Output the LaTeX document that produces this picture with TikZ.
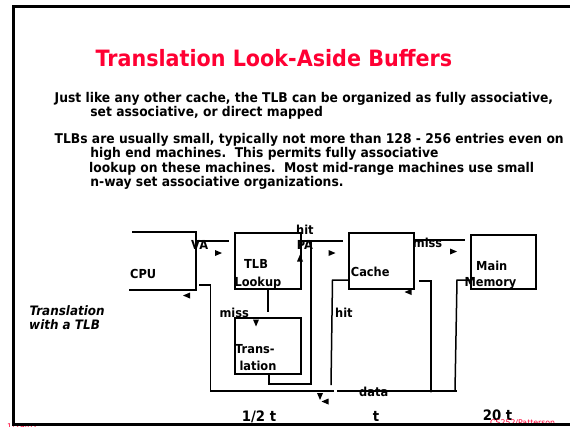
\documentclass[tikz,border=0pt]{standalone}
\usepackage{fontspec}
\setmainfont{DejaVu Sans}[FakeStretch=0.92]
\newfontfamily\plainfont{DejaVu Sans}
\usetikzlibrary{positioning,calc}
\definecolor{cRed}{HTML}{FF0033}

\begin{document}
\begin{tikzpicture}[
 x=1pt,y=-1pt,line join=miter,
 txt/.style={inner sep=0pt,anchor=base west},
 head/.style={txt,text=cRed,font=\bfseries\fontsize{22.5}{26}\selectfont},
 body/.style={txt,font=\bfseries\fontsize{13.4}{15}\selectfont},
 lab/.style={txt,font=\bfseries\fontsize{12.4}{15}\selectfont},
 foot/.style={txt,text=cRed,font=\plainfont\fontsize{7.8}{9}\selectfont},
 box/.style={draw=black,line width=1.5pt,inner sep=0pt,outer sep=0pt},
 wire/.style={draw=black,line width=1.5pt}]
\path[use as bounding box] (0,0) rectangle (570,426);

\node[head] (title) at (95.3,66.5) {Translation Look-Aside Buffers};
\node[body] (p1a) at (54.5,102.5) {Just like any other cache, the TLB can be organized as fully associative,};
\node[body] (p1b) at (90.2,116.8) {set associative, or direct mapped};
\node[body] (p2a) at (54.5,143.5) {TLBs are usually small, typically not more than 128 - 256 entries even on};
\node[body] (p2b) at (90.2,157.8) {high end machines.\ \ This permits fully associative};
\node[body] (p2c) at (89,172.1) {lookup on these machines.\ \ Most mid-range machines use small};
\node[body] (p2d) at (90.2,186.4) {n-way set associative organizations.};

\node[box,draw=none,minimum width=67pt,minimum height=58pt] (cpu) at (162.5,261) {};
\node[box,minimum width=66pt,minimum height=56pt] (tlb) at (268,261) {};
\node[box,minimum width=66pt,minimum height=56pt] (trans) at (268,346) {};
\node[box,minimum width=65pt,minimum height=56pt] (cache) at (381.5,261) {};
\node[box,minimum width=65pt,minimum height=54pt] (mem) at (503.5,262) {};
\draw[wire] (cpu.north west) ++(3,0) -- (cpu.north east) -- (cpu.south east) -- (cpu.south west);

\node[lab] (cpuL) at (130,278) {CPU};
\node[lab] (tlbL) at (244,268.3) {TLB};
\node[lab] (tlbM) at (234.3,286) {Lookup};
\node[lab] (transL) at (235,353.3) {Trans-};
\node[lab] (transM) at (239.3,370.7) {lation};
\node[lab] (cacheL) at (350.7,276.7) {Cache};
\node[lab] (memL) at (476,270) {Main};
\node[lab] (memM) at (464.3,286) {Memory};
\node[lab] (vaL) at (191,249.3) {VA};
\node[lab] (hitA) at (296,234) {hit};
\node[lab] (paL) at (296.7,249) {PA};
\node[lab] (missA) at (412.7,247.7) {miss};
\node[lab] (missB) at (219.3,317.3) {miss};
\node[lab] (hitB) at (335,317.7) {hit};
\node[lab] (dataL) at (359,396.7) {data};
\node[txt,font=\bfseries\itshape\fontsize{13}{15}\selectfont] (side1) at (29.3,315) {Translation};
\node[txt,font=\bfseries\itshape\fontsize{13}{15}\selectfont] (side2) at (29,329) {with a TLB};
\node[txt,font=\bfseries\fontsize{14.4}{16}\selectfont] (tA) at (241.7,421.7) {1/2 t};
\node[txt,font=\bfseries\fontsize{14.4}{16}\selectfont] (tB) at (372.7,421.7) {t};
\node[txt,font=\bfseries\fontsize{14.4}{16}\selectfont] (tC) at (482.7,420.7) {20 t};

\coordinate (va) at (196,241);
\coordinate (pa) at (300,241);
\coordinate (paJ) at (311,241);
\coordinate (ms) at (413,240);
\coordinate (hitE) at (331,385);
\coordinate (busL) at (334,391);
\coordinate (busA) at (337,391);
\coordinate (busJ) at (431,391);
\coordinate (busB) at (457,391);
\coordinate (memB) at (455,391);

\draw[wire,shorten >=6pt] (va) -- (va -| tlb.west);
\draw[wire,shorten >=6pt] (pa) -- (pa -| cache.west);
\draw[wire,shorten >=6pt] (ms) -- (ms -| mem.west);
\draw[wire] (tlb.south) -- ++(0,23);
\draw[wire] (trans.south) ++(1,0) -- ++(0,10) -| (paJ);
\draw[wire] (cache.west) ++(0,19) -- ++(-16.5,0) -- (hitE);
\draw[wire] (cpu.east) ++(3,24) -- ++(11.5,0) |- (busL);
\draw[wire] (busA) -- (busB);
\draw[wire] (cache.east) ++(5,20) -- ++(12,0) -- (busJ);
\draw[wire] (mem.west) ++(-1,18) -- ++(-13,0) -- (memB);
\fill (busJ) circle (1.6);

\foreach \x/\y in {218.5/253,332/253,453.5/251.5}
  \fill (\x-3.5,\y-3) -- (\x+3.5,\y) -- (\x-3.5,\y+3) -- cycle;
\foreach \x/\y in {186.5/295.5,408/292,325/401.5}
  \fill (\x+3.5,\y-3) -- (\x-3.5,\y) -- (\x+3.5,\y+3) -- cycle;
\foreach \x/\y in {256/323,320/396.5}
  \fill (\x-3,\y-3.5) -- (\x,\y+3.5) -- (\x+3,\y-3.5) -- cycle;
\fill (297,261.5) -- (300,254.5) -- (303,261.5) -- cycle;

\node[foot] (date) at (7,429) {1/29/02};
\node[foot] (course) at (490,425.5) {CS252/Patterson};
\draw[line width=2.6pt] (600,6.3) -- (13.2,6.3) -- (13.2,424.6) -- (600,424.6);
\end{tikzpicture}
\end{document}
